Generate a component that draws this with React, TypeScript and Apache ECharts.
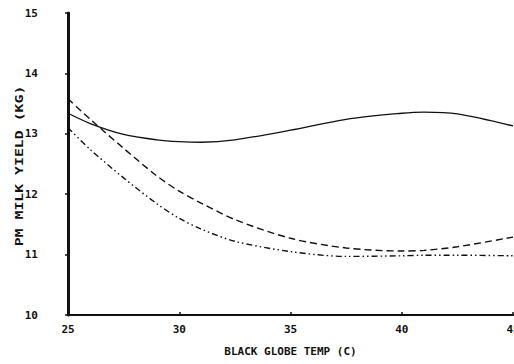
import React, { useEffect, useRef } from "react";
import * as echarts from "echarts";

const temps = [25, 26, 27.5, 29, 30, 31, 32.5, 35, 37.5, 40, 41, 42.5, 45];
const solidYield = [13.34, 13.17, 12.99, 12.9, 12.87, 12.86, 12.9, 13.06, 13.24, 13.34, 13.36, 13.33, 13.13];
const dashedYield = [13.58, 13.24, 12.76, 12.3, 12.05, 11.85, 11.58, 11.27, 11.11, 11.06, 11.07, 11.13, 11.29];
const dashDotYield = [13.1, 12.74, 12.27, 11.84, 11.6, 11.42, 11.22, 11.05, 10.97, 10.98, 10.99, 10.99, 10.98];

const xTitle = "BLACK GLOBE TEMP (C)";
const yTitle = "PM MILK YIELD (KG)";

const FONT = "DejaVu Sans Mono";

function pairs(ys: number[]) {
  return temps.map((t, i) => [t, ys[i]]);
}

export default function App() {
  const ref = useRef<HTMLDivElement>(null);
  useEffect(() => {
    if (!ref.current) return;
    const chart = echarts.init(ref.current, null, { renderer: "svg" });
    const lineBase = { type: "line", smooth: 0.3, showSymbol: false, symbol: "none" };
    chart.setOption({
      animation: false,
      backgroundColor: "#ffffff",
      grid: { left: 68, right: 1, top: 13, bottom: 49, outerBoundsMode: "none", containLabel: false },
      xAxis: {
        type: "value",
        min: 25,
        max: 45,
        interval: 5,
        name: xTitle,
        nameLocation: "middle",
        nameGap: 31,
        nameTextStyle: { fontFamily: FONT, fontWeight: "bold", fontSize: 11, color: "#111" },
        axisLine: { lineStyle: { color: "#111", width: 2.2 } },
        axisTick: { show: true, length: 3, inside: true, lineStyle: { color: "#111", width: 1.5 } },
        axisLabel: { fontFamily: FONT, fontWeight: "bold", fontSize: 11, color: "#111", margin: 9 },
        splitLine: { show: false },
      },
      yAxis: {
        type: "value",
        min: 10,
        max: 15,
        interval: 1,
        axisLine: { show: true, lineStyle: { color: "#111", width: 3 } },
        axisTick: { show: true, length: 3, lineStyle: { color: "#111", width: 1.5 } },
        axisLabel: { fontFamily: FONT, fontWeight: "bold", fontSize: 11, color: "#111", margin: 30 },
        splitLine: { show: false },
      },
      graphic: [
        {
          type: "text",
          x: 19,
          y: 166,
          rotation: Math.PI / 2,
          scaleX: 1.35,
          style: {
            text: yTitle,
            font: `bold 11px "${FONT}"`,
            fill: "#111",
            textAlign: "center",
            textVerticalAlign: "middle",
          },
        },
      ],
      series: [
        {
          ...lineBase,
          name: "solid",
          data: pairs(solidYield),
          lineStyle: { color: "#111", width: 1.3, type: "solid" },
        },
        {
          ...lineBase,
          name: "dashed",
          data: pairs(dashedYield),
          lineStyle: { color: "#111", width: 1.4, type: [7, 4] },
        },
        {
          ...lineBase,
          name: "dashdot",
          data: pairs(dashDotYield),
          lineStyle: { color: "#111", width: 1.4, type: [6, 3, 1.5, 3, 1.5, 3] },
        },
      ],
    });
    return () => chart.dispose();
  }, []);
  return (
    <div
      ref={ref}
      style={{ position: "fixed", left: 0, top: 0, width: 514, height: 364, background: "#fff" }}
    />
  );
}
